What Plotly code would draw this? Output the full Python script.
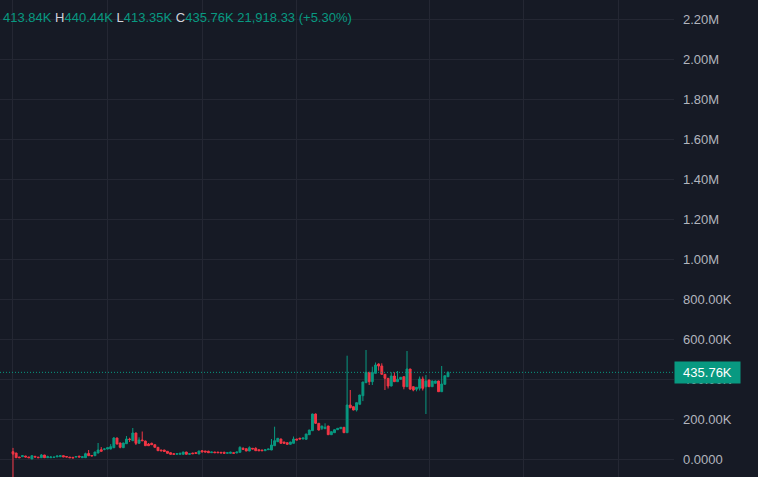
import plotly.graph_objects as go

# ---- data (values in thousands) ----
opens = [39, 32.5, 12.5, 14, 17.5, 12.5, 2.5, 16, 12, 9,
         22.5, 9, 9, 10.5, 13, 14, 19, 15, 12, 11,
         12, 17, 9, 9, 30, 20, 19, 32.5, 49, 51,
         52.5, 52.5, 59, 107.5, 82.5, 59, 79, 102, 94, 132.5,
         81, 97.5, 92.5, 77.5, 81, 74, 61, 47.5, 47.5, 41,
         34, 29, 26, 26, 26, 37.5, 26, 32.5, 34, 27.5,
         44, 42.5, 41, 34, 37.5, 37, 36, 36, 31, 31,
         34, 32.5, 36, 56, 54, 42.5, 56, 56, 49, 47.5,
         44, 49, 47.5, 69, 89, 102.5, 87.5, 84, 76, 81,
         102.5, 106, 102.5, 101, 124, 144, 227.5, 181, 156, 154,
         167.5, 124, 134, 149, 154, 161, 134, 272.5, 264, 247.5,
         276, 319, 384, 436, 389, 431, 477.5, 467.5, 426, 406,
         367.5, 417.5, 389, 401, 414, 364, 452.5, 364, 351, 356,
         402.5, 364, 397.5, 364, 381, 392.5, 339, 376, 413.84]
highs = [58, 33, 13, 22.5, 18, 13, 21, 17, 12.5, 27.5,
         23, 19, 17, 13, 18, 20, 20, 16, 12.5, 11.5,
         16, 18, 15, 34, 47.5, 21, 38, 82.5, 62, 55,
         60, 77, 112, 109, 84, 84, 117.5, 109, 157.5, 134,
         111, 140, 94, 82.5, 84, 75, 62, 48, 48, 42,
         35, 30, 30, 32, 38, 38, 30, 33, 35, 43,
         47.5, 43, 44, 38, 38, 38, 37, 39, 35, 39,
         35, 38, 66, 61, 55, 66, 57, 61, 50, 48,
         50, 53, 102.5, 164, 107, 104, 88, 85, 88, 115,
         103, 109, 108, 128, 148, 229, 230, 182, 168, 181,
         168, 140, 150, 157, 162, 162, 519, 347.5, 265, 285,
         323, 388, 547.5, 437, 464, 485, 481, 481, 427, 407,
         436, 436, 442.5, 412, 415, 542.5, 453, 365, 362, 415,
         415, 422.5, 399, 394, 394, 394, 467.5, 420, 440.44]
lows = [22, 8, 8, 13, 12, 8, 2, 12, 8, 8,
        8, 8, 8, 10, 12, 13, 12, 12, 8, 7,
        11, 12, 8, 8, 18, 17, 18, 31, 40, 46,
        51, 51, 57, 75, 56, 58, 78, 87.5, 92, 72.5,
        80, 92, 68, 68, 73, 60, 43, 40, 39, 30,
        25, 25, 25, 25, 25, 25, 25, 28, 30, 27,
        37, 37, 33, 33, 33, 33, 32, 30, 30, 30,
        30, 32, 35, 50, 42, 42, 52, 43, 43, 43,
        43, 48, 47, 68, 88, 80, 80, 75, 75, 80,
        97, 102, 102, 100, 123, 142.5, 177.5, 145, 147.5, 153,
        123, 123, 133, 148, 153, 133, 133, 256, 246, 240,
        275, 292, 383, 372.5, 372.5, 430, 444, 425, 347.5, 355,
        366, 388, 388, 400, 351, 363, 347.5, 341, 341, 345,
        345, 227.5, 363, 363, 380, 338, 338, 375, 413.35]
closes = [29, 9, 9, 19, 12.5, 9, 19, 12.5, 9, 22.5,
          9, 14, 12, 12, 17.5, 19, 13, 12.5, 9, 8,
          15, 12.5, 14, 29, 19, 18, 37.5, 47.5, 41, 52.5,
          59, 64, 107.5, 77.5, 61, 82.5, 102.5, 100, 132.5, 81,
          97.5, 94, 69, 69, 74, 61, 44, 44, 40, 31,
          26, 26, 29, 31, 37.5, 26, 29, 29, 31, 42.5,
          37.5, 37.5, 34, 37.5, 34, 34, 33, 31, 34, 36,
          31, 37.5, 61, 51, 42.5, 59, 52.5, 44, 44, 44,
          49, 52.5, 72.5, 94, 106, 81, 81, 76, 87.5, 102.5,
          97.5, 102.5, 107.5, 127.5, 147.5, 227.5, 181, 147.5, 167.5, 161,
          124, 139, 149, 156, 161, 134, 272.5, 259, 247.5, 284,
          322.5, 387.5, 436, 389, 436, 472.5, 467.5, 426, 406, 367.5,
          417.5, 389, 401, 411, 364, 452.5, 352.5, 347.5, 361, 402.5,
          356, 392.5, 364, 392.5, 392.5, 339, 377.5, 419, 435.76]
first_volume = [1.2]          # millions, only the first volume bar is visible
grid_days = [0, 30, 60, 90, 132, 162, 192]
price_ticks = [0, 200, 400, 600, 800, 1000, 1200, 1400, 1600, 1800, 2000, 2200]
price_labels = ["0.0000", "200.00K", "400.00K", "600.00K", "800.00K", "1.00M",
                "1.20M", "1.40M", "1.60M", "1.80M", "2.00M", "2.20M"]
last = dict(o=413.84, h=440.44, l=413.35, c=435.76, chg="21,918.33", pct="+5.30%")

GREEN = "#089981"
RED = "#F23645"
BG = "#161A25"
GRID = "#242733"

k = 1000.0
days = list(range(len(opens)))

fig = go.Figure()
fig.add_trace(go.Bar(
    x=[0], y=[v * 1e6 for v in first_volume], yaxis="y2",
    marker=dict(color="rgba(242,54,69,0.5)", line=dict(width=0)),
    width=0.7, showlegend=False, hoverinfo="skip"))
fig.add_trace(go.Candlestick(
    x=days,
    open=[v * k for v in opens], high=[v * k for v in highs],
    low=[v * k for v in lows], close=[v * k for v in closes],
    increasing=dict(line=dict(color=GREEN, width=1), fillcolor=GREEN),
    decreasing=dict(line=dict(color=RED, width=1), fillcolor=RED),
    whiskerwidth=0, showlegend=False, hoverinfo="skip"))

fig.add_shape(type="line", xref="paper", x0=0, x1=1, yref="y",
              y0=last["c"] * k, y1=last["c"] * k,
              line=dict(color=GREEN, width=1, dash="1px,2px"))

fig.add_annotation(xref="paper", x=1, xanchor="left", yref="y", y=last["c"] * k,
                   yanchor="middle", text=f"{last['c']:.2f}K", showarrow=False,
                   font=dict(family="Liberation Sans", size=13, color="#FFFFFF"),
                   bgcolor=GREEN, width=57, height=13, borderpad=4, align="center")

def span(t, c):
    return f"<span style='color:{c}'>{t}</span>"

legend = (span(f"{last['o']:.2f}K", GREEN) + " " + span("H", "#D1D4DC") + span(f"{last['h']:.2f}K", GREEN)
          + " " + span("L", "#D1D4DC") + span(f"{last['l']:.2f}K", GREEN)
          + " " + span("C", "#D1D4DC") + span(f"{last['c']:.2f}K", GREEN)
          + " " + span(f"{last['chg']} ({last['pct']})", GREEN))
fig.add_annotation(xref="paper", x=0, xanchor="left", xshift=1, yref="paper", y=1,
                   yanchor="middle", yshift=-17, text=legend, showarrow=False,
                   font=dict(family="Liberation Sans", size=13, color=GREEN))

fig.update_layout(
    width=758, height=477,
    margin=dict(l=0, r=84, t=0, b=0),
    paper_bgcolor=BG, plot_bgcolor=BG,
    xaxis=dict(range=[-4.12, 209.7], tickvals=grid_days, showticklabels=False,
               showgrid=True, gridcolor=GRID, gridwidth=1, zeroline=False,
               rangeslider=dict(visible=False), showline=False, ticks=""),
    yaxis=dict(side="right", range=[-87.5 * k, 2297.5 * k],
               tickvals=[v * k for v in price_ticks], ticktext=price_labels,
               showgrid=True, gridcolor=GRID, gridwidth=1, zeroline=False,
               showline=False, ticks="", ticklabelstandoff=8,
               tickfont=dict(family="Liberation Sans", size=13, color="#B2B5BE")),
    yaxis2=dict(overlaying="y", range=[0, 23.85e6], visible=False),
    bargap=0,
    boxgap=0.15,
)

fig.write_html(
    "out.html",
    config={"displayModeBar": False},
    post_script="document.body.style.margin='0';document.body.style.overflow='hidden';"
                "document.body.style.background='#161A25';",
)
